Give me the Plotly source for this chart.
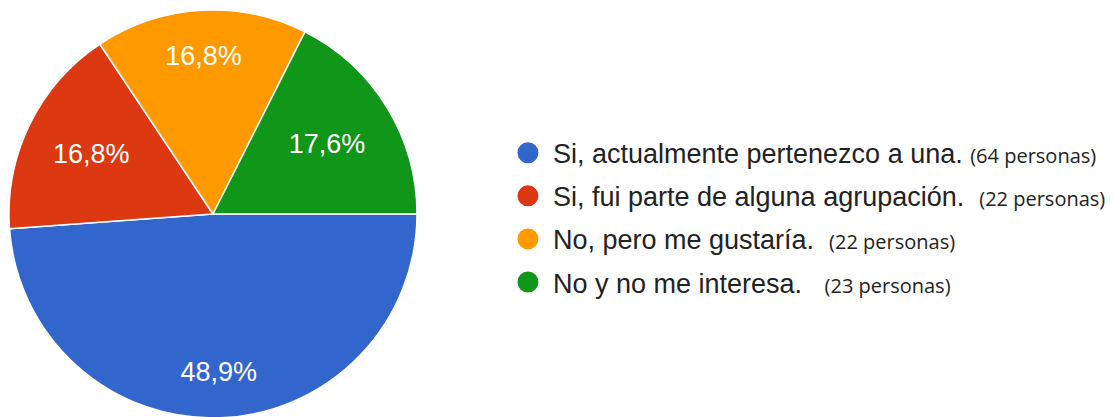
import plotly.graph_objects as go

respuestas = ['Si, actualmente pertenezco a una.', 'Si, fui parte de alguna agrupación.',
              'No, pero me gustaría.', 'No y no me interesa.']
personas = [64, 22, 22, 23]
espacios = [1, 2, 2, 3]
colores = ['#3366cc', '#dc3912', '#ff9900', '#109618']

pct = '%{percent:.1%}'
fuente_pct = dict(family='Liberation Sans, Arial', size=27, color='white')
dominio = dict(x=[1 / 1114, 409 / 1114], y=[0, 1])

fig = go.Figure()

# pie principal (etiquetas de rojo y verde)
fig.add_trace(go.Pie(
    labels=respuestas,
    values=personas,
    marker=dict(colors=colores, line=dict(color='white', width=1.5)),
    sort=False,
    direction='clockwise',
    rotation=90,
    texttemplate=['', pct, '', pct],
    textposition='inside',
    insidetextorientation='horizontal',
    textfont=fuente_pct,
    hoverinfo='label+value+percent',
    showlegend=False,
    domain=dominio,
))

# capa transparente solo para ubicar las etiquetas de azul y naranja mas afuera
fig.add_trace(go.Pie(
    labels=respuestas,
    values=personas,
    hole=0.55,
    marker=dict(colors=['rgba(0,0,0,0)'] * 4, line=dict(width=0)),
    sort=False,
    direction='clockwise',
    rotation=90,
    texttemplate=[pct, '', pct, ''],
    textposition='inside',
    insidetextorientation='horizontal',
    textfont=fuente_pct,
    hoverinfo='skip',
    showlegend=False,
    domain=dominio,
))

# leyenda con circulos
for i, (resp, n, col) in enumerate(zip(respuestas, personas, colores)):
    nombre = (resp + '&nbsp;' * espacios[i] +
              "<span style='font-family:Open Sans;font-size:20px'>(%d personas)</span>" % n)
    fig.add_trace(go.Scatter(
        x=[None], y=[None], mode='markers', name=nombre,
        marker=dict(color=col, size=16, line=dict(color=col, width=5)),
        legendgroup=str(i),
    ))

fig.update_layout(
    width=1114,
    height=417,
    margin=dict(l=0, r=0, t=2, b=7),
    paper_bgcolor='white',
    plot_bgcolor='white',
    separators=',.',
    xaxis=dict(visible=False),
    yaxis=dict(visible=False),
    legend=dict(
        x=0.4443, y=0.491, xanchor='left', yanchor='middle',
        font=dict(family='Liberation Sans, Arial', size=27, color='#222222'),
        itemsizing='trace',
        itemwidth=40,
        traceorder='grouped',
        tracegroupgap=5,
        bgcolor='rgba(0,0,0,0)',
    ),
)

fig.write_html('out.html')
